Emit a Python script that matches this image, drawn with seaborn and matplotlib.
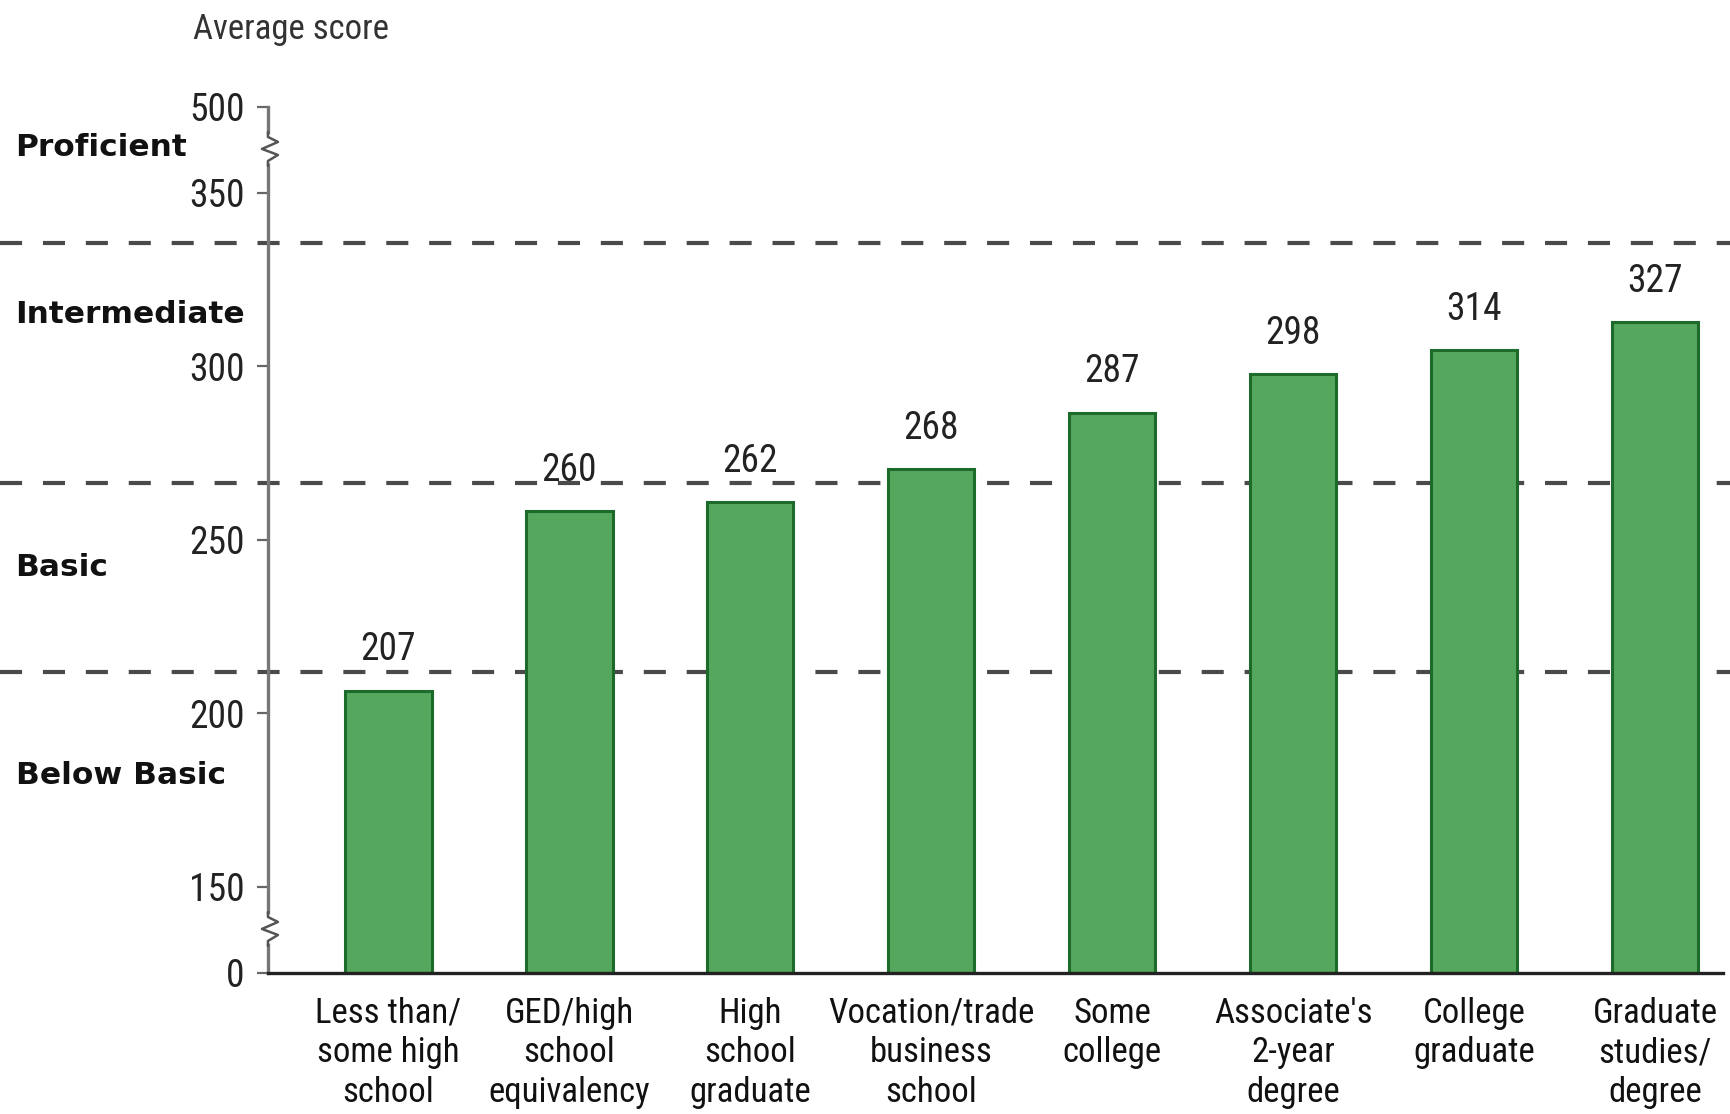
import numpy as np
import pandas as pd
import matplotlib
matplotlib.use("Agg")
import matplotlib.pyplot as plt
import matplotlib.transforms as mtransforms
from matplotlib.lines import Line2D
from matplotlib import font_manager as fm
import seaborn as sns

# ---------------- data ----------------
categories = [
    "Less than/\nsome high\nschool",
    "GED/high\nschool\nequivalency",
    "High\nschool\ngraduate",
    "Vocation/trade\nbusiness\nschool",
    "Some\ncollege",
    "Associate's\n2-year\ndegree",
    "College\ngraduate",
    "Graduate\nstudies/\ndegree",
]
score_labels = [207, 260, 262, 268, 287, 298, 314, 327]          # printed values
bar_heights = [206.6, 258.4, 261.0, 270.5, 286.7, 297.7, 304.6, 312.7]  # drawn heights
y_ticks = [0, 150, 200, 250, 300, 350, 500]
level_names = ["Below Basic", "Basic", "Intermediate", "Proficient"]
level_cutoffs = [212.0, 266.5, 335.5]

# ---------------- layout / style ----------------
level_label_y = [182, 242, 315, 430]
break_values = [75, 425]
BAR_FILL = "#54a75c"
BAR_EDGE = "#1d6b2b"

sns.set_style("white")

# find a condensed face if any is installed
names = {f.name for f in fm.fontManager.ttflist}
cond_family = "DejaVu Sans"
for pref in ["Liberation Sans Narrow", "Roboto Condensed", "Open Sans Condensed",
             "DejaVu Sans Condensed", "Roboto", "DejaVu Sans"]:
    if pref in names:
        cond_family = pref
        break
NARROW = [cond_family, "DejaVu Sans"]
plt.rcParams["font.family"] = NARROW
plt.rcParams["font.stretch"] = "condensed"

df = pd.DataFrame({"category": categories, "height": bar_heights})

fig = plt.figure(figsize=(17.31, 11.14), dpi=100)
ax = fig.add_axes([0.1548, 0.1266, 0.8406, 0.7774])

sns.barplot(data=df, x="category", y="height", color=BAR_FILL, saturation=1,
            width=0.476, edgecolor=BAR_EDGE, linewidth=2.2, ax=ax, zorder=2)
for p in ax.patches:
    p.set_facecolor(BAR_FILL)

# broken y axis: 0-150 and 350-500 compressed
seg_vals = [0, 150, 350, 500]
seg_pos = [0, 86, 780, 866]


def fwd(v):
    return np.interp(v, seg_vals, seg_pos)


def inv(p):
    return np.interp(p, seg_pos, seg_vals)


ax.set_yscale("function", functions=(fwd, inv))
ax.set_ylim(0, 500)
ax.set_xlim(-0.666, 7.375)
ax.set_yticks(y_ticks)
ax.set_yticklabels([str(t) for t in y_ticks])
ax.yaxis.set_minor_locator(matplotlib.ticker.NullLocator())
ax.set_xlabel("")
ax.set_ylabel("")

ax.tick_params(axis="y", length=8, width=1.6, color="#666666", pad=9,
               labelsize=27, labelcolor="#222222", left=True)
ax.tick_params(axis="x", length=0, pad=17, labelsize=25, labelcolor="#111111")
for lab in ax.get_xticklabels():
    lab.set_linespacing(1.25)
    lab.set_ha("center")

for s in ["top", "right"]:
    ax.spines[s].set_visible(False)
ax.spines["left"].set_color("#777777")
ax.spines["left"].set_linewidth(2.4)
ax.spines["bottom"].set_color("#222222")
ax.spines["bottom"].set_linewidth(2.4)
ax.patch.set_visible(False)

# dashed level cut-off lines across the whole figure
blend_fig = mtransforms.blended_transform_factory(fig.transFigure, ax.transData)
for c in level_cutoffs:
    ax.add_line(Line2D([0, 1], [c, c], transform=blend_fig, clip_on=False,
                       color="#4a4a4a", lw=3, linestyle=(0, (5.3, 5.0)), zorder=1))

# level names on the left
for name, yv in zip(level_names, level_label_y):
    fig.text(0.009, yv, name, transform=blend_fig, ha="left", va="center",
             fontsize=22.5, fontweight="heavy", family="DejaVu Sans",
             fontstretch="normal", color="#111111")

# value labels
for i, (h, lab) in enumerate(zip(bar_heights, score_labels)):
    ax.annotate(str(lab), xy=(i, h), xytext=(0, 16), textcoords="offset points",
                ha="center", va="bottom", fontsize=27, color="#222222")

# axis title
fig.text(193 / 1731, 1 - 30 / 1114, "Average score", ha="left", va="center",
         fontsize=25, color="#333333")

# axis break marks
blend_ax = mtransforms.blended_transform_factory(ax.transAxes, ax.transData)
zig_x = [0, 0, 10, -6, 10, 0, 0]
zig_y = [18, 13, 8, 1, -5, -11, -16]
for bv in break_values:
    tr = mtransforms.Affine2D() + mtransforms.ScaledTranslation(0, bv, blend_ax)
    ax.add_line(Line2D([-1.5, -1.5, 1.5, 1.5], [13, -11, -11, 13], transform=tr,
                       clip_on=False, color="white", lw=4, zorder=3))
    ax.add_line(Line2D(zig_x, zig_y, transform=tr, clip_on=False,
                       color="#555555", lw=1.8, zorder=4))

fig.savefig("out.png", dpi=100, facecolor="white")
